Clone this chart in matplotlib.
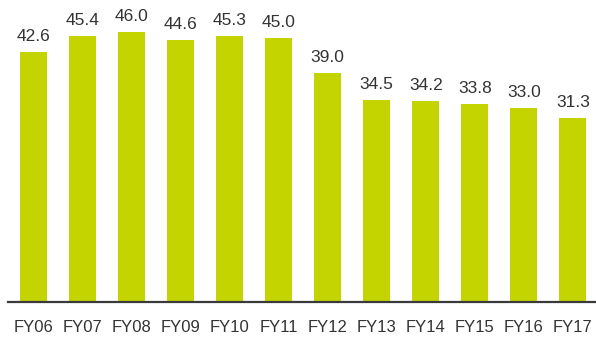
import matplotlib.pyplot as plt
import numpy as np

plt.rcParams["font.family"] = ["Liberation Sans", "DejaVu Sans"]

years = ["FY06", "FY07", "FY08", "FY09", "FY10", "FY11",
         "FY12", "FY13", "FY14", "FY15", "FY16", "FY17"]
values = [42.6, 45.4, 46.0, 44.6, 45.3, 45.0,
          39.0, 34.5, 34.2, 33.8, 33.0, 31.3]

BAR = "#c4d400"
TEXT = "#333333"

fig = plt.figure(figsize=(5.96, 3.37), dpi=100)
ax = fig.add_axes([8 / 596, 35 / 337, 1 - 8 / 596, 302 / 337])

x = np.arange(len(years))
ax.bar(x, values, width=0.55, color=BAR, zorder=2)

for xi, v in zip(x, values):
    ax.annotate(f"{v:.1f}", (xi, v), xytext=(0, 8), textcoords="offset points",
                ha="center", va="baseline", fontsize=12.5, color=TEXT)

ax.set_xlim(-0.52, 11.47)
ax.set_ylim(0, 51.5)
ax.set_xticks(x)
ax.set_xticklabels(years, fontsize=12, color=TEXT)
ax.tick_params(axis="x", length=0, pad=13)
ax.set_yticks([])

for side in ("top", "right", "left"):
    ax.spines[side].set_visible(False)
ax.spines["bottom"].set_color("#3a3a3a")
ax.spines["bottom"].set_linewidth(1.6)
ax.spines["bottom"].set_zorder(3)

fig.savefig("out.png", dpi=100)
